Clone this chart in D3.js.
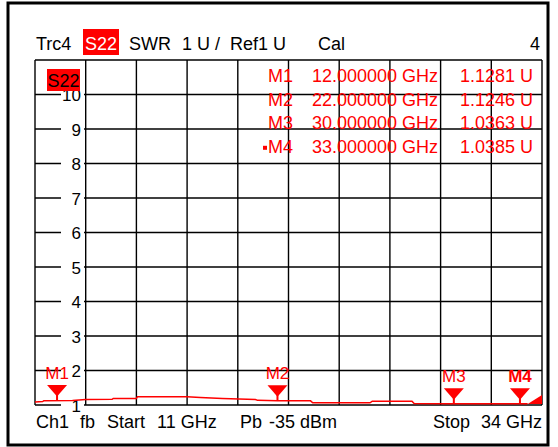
<!DOCTYPE html>
<html>
<head>
<meta charset="utf-8">
<script src="https://cdn.jsdelivr.net/npm/d3@7"></script>
<style>
  body { margin: 0; background: #fff; }
  text { font-family: "Liberation Sans", Arial, sans-serif; }
</style>
</head>
<body>
<div id="chart"></div>
<script>
////////////////////////////////////////////////////////////////////////
// Data

// trace S22 as SWR, [frequency in GHz, swr]
let traceFreq = [11, 11.35, 11.4, 12.7, 13.3, 14.5, 14.55, 15.6, 15.65, 17.9,
                 18.5, 19.5, 21.0, 21.1, 22.0, 23.5, 23.6, 26.2, 26.3, 28.1,
                 28.2, 30, 33, 33.35];
let traceSwr  = [1.09, 1.10, 1.125, 1.128, 1.16, 1.165, 1.19, 1.19, 1.24, 1.24,
                 1.22, 1.19, 1.16, 1.135, 1.125, 1.12, 1.065, 1.065, 1.11, 1.11,
                 1.04, 1.036, 1.0385, 1.035];
// steep wedge at the very end of the sweep
let tailFreq = [33.35, 34];
let tailSwr  = [1.03, 1.29];

// markers
let markerNames = ["M1", "M2", "M3", "M4"];
let markerFreq  = [12, 22, 30, 33];
let markerSwr   = [1.1281, 1.1246, 1.0363, 1.0385];
let markerFreqText = ["12.000000 GHz", "22.000000 GHz", "30.000000 GHz", "33.000000 GHz"];
let markerValText  = ["1.1281 U", "1.1246 U", "1.0363 U", "1.0385 U"];

// axes
let freqRange = [11, 34];
let swrRange = [1, 11];
let yTickLabels = [1, 2, 3, 4, 5, 6, 7, 8, 9, 10];

// header and footer words
let headerWords = ["Trc4", "S22", "SWR", "1 U /", "Ref1 U", "Cal", "4"];
let headerX     = [36, 101, 129, 182, 230, 318, 540];
let footerWords = ["Ch1", "fb", "Start", "11 GHz", "Pb", "-35 dBm", "Stop", "34 GHz"];
let footerX     = [36, 80, 107, 157, 240, 269, 433, 481];

////////////////////////////////////////////////////////////////////////
// Layout

let width = 558, height = 447;
let plot = {left: 35, top: 60, right: 542, bottom: 405};
let red = "#ff0000";

let svg = d3.select("#chart")
  .append("svg")
  .attr("width", width)
  .attr("height", height);

let xScale = d3.scaleLinear().domain(freqRange).range([plot.left, plot.right]);
let yScale = d3.scaleLinear().domain(swrRange).range([plot.bottom, plot.top]);

// outer frame
svg.append("rect")
  .attr("x", 8).attr("y", 3)
  .attr("width", 540).attr("height", 442)
  .attr("fill", "none")
  .attr("stroke", "#000")
  .attr("stroke-width", 3);

////////////////////////////////////////////////////////////////////////
// Grid: 10 divisions each way

let xDivs = d3.range(11).map((i) => freqRange[0] + i * (freqRange[1] - freqRange[0]) / 10);
let yDivs = d3.range(11).map((i) => swrRange[0] + i);

let grid = svg.append("g").attr("stroke", "#000").attr("stroke-width", 1.4);

grid.selectAll("line.v")
  .data(xDivs).enter()
  .append("line").attr("class", "v")
  .attr("x1", (d) => xScale(d)).attr("x2", (d) => xScale(d))
  .attr("y1", plot.top).attr("y2", plot.bottom);

grid.selectAll("line.h")
  .data(yDivs).enter()
  .append("line").attr("class", "h")
  .attr("x1", plot.left).attr("x2", plot.right)
  .attr("y1", (d) => yScale(d)).attr("y2", (d) => yScale(d));

// y labels sit in a gap of the grid line
let yl = svg.append("g").selectAll("g")
  .data(yTickLabels).enter()
  .append("g")
  .attr("transform", (d) => "translate(0," + yScale(d) + ")");

yl.append("rect")
  .attr("x", 61).attr("y", -2)
  .attr("width", 23).attr("height", 4)
  .attr("fill", "#fff");

yl.append("text")
  .attr("x", 81).attr("y", 6.5)
  .attr("text-anchor", "end")
  .attr("font-size", 17)
  .attr("fill", "#000")
  .text((d) => d);

// trace name box inside the plot
svg.append("rect")
  .attr("x", 47).attr("y", 69)
  .attr("width", 33).attr("height", 22)
  .attr("fill", red);
svg.append("text")
  .attr("x", 63.5).attr("y", 87)
  .attr("text-anchor", "middle")
  .attr("font-size", 18)
  .attr("fill", "#000")
  .text("S22");

////////////////////////////////////////////////////////////////////////
// Trace

let traceData = traceFreq.map((f, i) => [f, traceSwr[i]]);
let tailData = tailFreq.map((f, i) => [f, tailSwr[i]]);

svg.append("path")
  .attr("d", d3.line().x((d) => xScale(d[0])).y((d) => yScale(d[1]))(traceData))
  .attr("fill", "none")
  .attr("stroke", red)
  .attr("stroke-width", 1.5);

svg.append("path")
  .attr("d", d3.area()
        .x((d) => xScale(d[0]))
        .y0(yScale(swrRange[0]) - 1)
        .y1((d) => yScale(d[1]))(tailData))
  .attr("fill", red);

////////////////////////////////////////////////////////////////////////
// Markers on the trace

let mk = svg.append("g").selectAll("g")
  .data(markerNames).enter()
  .append("g")
  .attr("transform", (d, i) => "translate(" + xScale(markerFreq[i]) + ","
        + yScale(markerSwr[i]) + ")");

mk.append("path")
  .attr("d", "M-10,-15.5L10,-15.5L0,-4Z")
  .attr("fill", red);
mk.append("rect")
  .attr("x", -1).attr("y", -6)
  .attr("width", 2).attr("height", 6)
  .attr("fill", red);
mk.append("text")
  .attr("y", -21.5)
  .attr("text-anchor", "middle")
  .attr("font-size", 17)
  .attr("font-weight", (d, i) => i == 3 ? "bold" : "normal")
  .attr("fill", red)
  .text((d) => d);

////////////////////////////////////////////////////////////////////////
// Marker table

let rows = svg.append("g").selectAll("g")
  .data(markerNames).enter()
  .append("g")
  .attr("transform", (d, i) => "translate(0," + (82 + i * 23.6) + ")")
  .attr("fill", red)
  .attr("font-size", 18)
  .attr("text-anchor", "end");

rows.append("text").attr("x", 293).text((d) => d);
rows.append("text").attr("x", 438).text((d, i) => markerFreqText[i]);
rows.append("text").attr("x", 533).text((d, i) => markerValText[i]);

// active marker square
rows.filter((d, i) => i == 3)
  .append("rect")
  .attr("x", 263).attr("y", -7)
  .attr("width", 4).attr("height", 4);

////////////////////////////////////////////////////////////////////////
// Header and footer

svg.append("rect")
  .attr("x", 83).attr("y", 29)
  .attr("width", 36).attr("height", 26)
  .attr("fill", red);

svg.append("g").selectAll("text")
  .data(headerWords).enter()
  .append("text")
  .attr("x", (d, i) => headerX[i])
  .attr("y", 50)
  .attr("font-size", 18)
  .attr("text-anchor", (d, i) => i == 1 ? "middle" : (i == 6 ? "end" : "start"))
  .attr("fill", (d, i) => i == 1 ? "#fff" : "#000")
  .text((d) => d);

svg.append("g").selectAll("text")
  .data(footerWords).enter()
  .append("text")
  .attr("x", (d, i) => footerX[i])
  .attr("y", 428)
  .attr("font-size", 18)
  .attr("fill", "#000")
  .text((d) => d);
</script>
</body>
</html>
